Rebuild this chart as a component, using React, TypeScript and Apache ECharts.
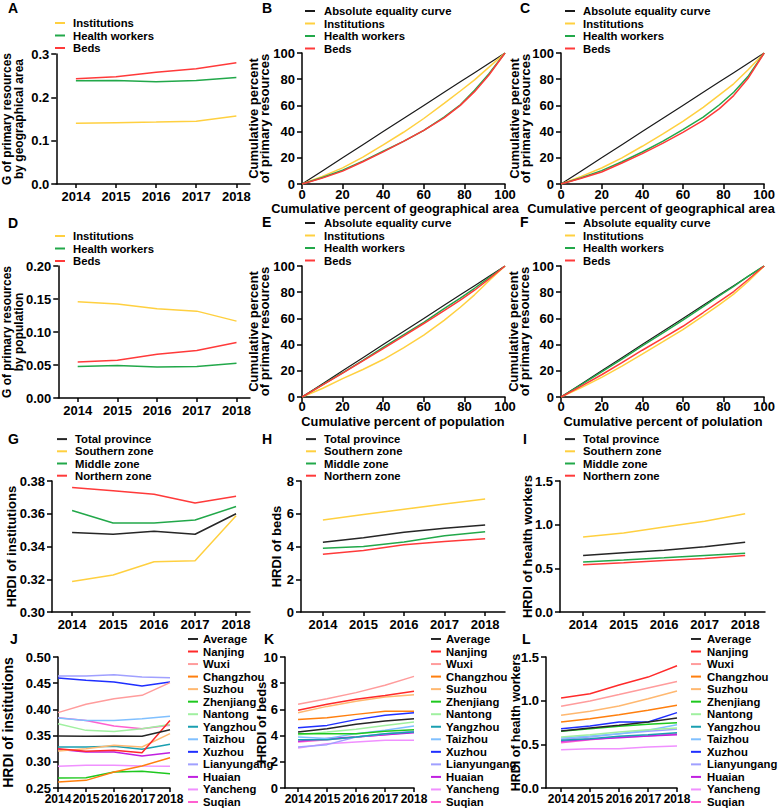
import React, { useEffect, useRef } from "react";
import * as echarts from "echarts";

// ---------- DATA ----------
const years = [2014, 2015, 2016, 2017, 2018];
const resourceNames = ["Institutions", "Health workers", "Beds"];
const equalityName = "Absolute equality curve";
const zoneNames = ["Total province", "Southern zone", "Middle zone", "Northern zone"];
const cityNames = [
  "Average", "Nanjing", "Wuxi", "Changzhou", "Suzhou", "Zhenjiang", "Nantong",
  "Yangzhou", "Taizhou", "Xuzhou", "Lianyungang", "Huaian", "Yancheng", "Suqian",
];

// A: Gini by geographical area
const giniAreaInstitutions = [0.140, 0.1415, 0.143, 0.1447, 0.157];
const giniAreaHealthWorkers = [0.238, 0.239, 0.236, 0.239, 0.246];
const giniAreaBeds = [0.243, 0.2476, 0.258, 0.266, 0.280];

// D: Gini by population
const giniPopInstitutions = [0.146, 0.1423, 0.1352, 0.1316, 0.1165];
const giniPopHealthWorkers = [0.0476, 0.0491, 0.0471, 0.0476, 0.0527];
const giniPopBeds = [0.0547, 0.0572, 0.0663, 0.0719, 0.084];

// Lorenz curves (cumulative percent)
const lorenzPct = [0, 10, 20, 30, 40, 50, 60, 70, 78, 85, 92, 100];
const equality = [0, 10, 20, 30, 40, 50, 60, 70, 78, 85, 92, 100];
// B
const lorenzB_Institutions = [0, 5.8, 12.3, 20.5, 29.8, 39.5, 50, 61.5, 71, 79.5, 89, 100];
const lorenzB_HealthWorkers = [0, 5, 10.5, 17.5, 25, 32.5, 41, 51, 60.5, 71.5, 84, 100];
const lorenzB_Beds = [0, 4.5, 9.8, 17, 24.5, 32.5, 41, 50.5, 60, 70.5, 83, 100];
// C
const lorenzC_Institutions = [0, 5.8, 12.2, 20, 28.8, 38, 47.8, 58.5, 68, 76.5, 87, 100];
const lorenzC_HealthWorkers = [0, 4.8, 10.2, 17, 24.4, 32.5, 41.5, 51, 60.5, 70, 82, 100];
const lorenzC_Beds = [0, 4.4, 9.2, 16, 23.2, 31, 39.4, 48.5, 57.5, 67.5, 80.5, 100];
// E
const lorenzE_Institutions = [0, 6.5, 14, 21, 28.6, 37.5, 47.2, 58.5, 68.5, 78, 88.5, 100];
const lorenzE_HealthWorkers = [0, 9.2, 18.5, 28, 37.8, 47.5, 57, 67.5, 75.5, 83, 91, 100];
const lorenzE_Beds = [0, 9, 18.2, 27.5, 37, 46.5, 56.1, 66, 74, 81.5, 90, 100];
// F
const lorenzF_Institutions = [0, 7.2, 15, 23.5, 32.7, 42, 51.5, 62, 70.5, 78.5, 88, 100];
const lorenzF_HealthWorkers = [0, 9.5, 19.2, 29, 39, 48.8, 58.7, 69, 77.3, 84.5, 92, 100];
const lorenzF_Beds = [0, 8.3, 17, 26.2, 35.7, 44.8, 54, 64.5, 73, 80.5, 89.5, 100];

// G, H, I: HRDI by zone (Total, Southern, Middle, Northern)
const hrdiZoneInstitutions = [
  [0.3485, 0.3475, 0.3493, 0.3475, 0.360],
  [0.3186, 0.3226, 0.3307, 0.3313, 0.3588],
  [0.362, 0.3543, 0.3543, 0.3562, 0.3644],
  [0.376, 0.3741, 0.3719, 0.3665, 0.3707],
];
const hrdiZoneBeds = [
  [4.26, 4.53, 4.87, 5.12, 5.32],
  [5.62, 5.95, 6.27, 6.6, 6.9],
  [3.9, 4.0, 4.28, 4.65, 4.9],
  [3.53, 3.76, 4.1, 4.3, 4.47],
];
const hrdiZoneHealthWorkers = [
  [0.648, 0.678, 0.708, 0.746, 0.8],
  [0.86, 0.905, 0.973, 1.038, 1.125],
  [0.572, 0.595, 0.621, 0.648, 0.674],
  [0.542, 0.564, 0.591, 0.614, 0.648],
];

// J, K, L: HRDI by city (order of cityNames)
const hrdiCityInstitutions = [
  [0.3492, 0.3486, 0.3492, 0.3486, 0.3613],
  [0.325, 0.32, 0.3219, 0.3174, 0.379],
  [0.3938, 0.4097, 0.4205, 0.4268, 0.451],
  [0.2614, 0.2646, 0.2805, 0.292, 0.3079],
  [0.3206, 0.325, 0.3314, 0.3282, 0.3537],
  [0.269, 0.2697, 0.2805, 0.2818, 0.2774],
  [0.3728, 0.36, 0.358, 0.3632, 0.371],
  [0.3282, 0.3282, 0.3295, 0.3238, 0.3333],
  [0.3836, 0.379, 0.379, 0.382, 0.3868],
  [0.46, 0.4555, 0.4523, 0.4447, 0.4523],
  [0.4637, 0.4637, 0.466, 0.462, 0.4605],
  [0.3238, 0.3187, 0.3187, 0.311, 0.3174],
  [0.2914, 0.2933, 0.2933, 0.292, 0.2914],
  [0.3842, 0.379, 0.3683, 0.3632, 0.3696],
];
const hrdiCityBeds = [
  [4.27, 4.53, 4.86, 5.11, 5.29],
  [5.93, 6.39, 6.77, 7.07, 7.38],
  [6.39, 6.82, 7.28, 7.84, 8.52],
  [5.22, 5.37, 5.62, 5.85, 5.85],
  [5.75, 6.23, 6.62, 6.95, 7.12],
  [4.15, 4.15, 4.15, 4.33, 4.45],
  [4.07, 4.27, 4.48, 4.78, 5.04],
  [3.69, 3.69, 3.89, 4.15, 4.27],
  [3.89, 3.78, 4.15, 4.4, 4.73],
  [4.6, 4.78, 5.22, 5.55, 5.75],
  [3.13, 3.31, 3.89, 4.15, 4.33],
  [3.56, 3.77, 3.89, 4.07, 4.22],
  [3.05, 3.38, 3.51, 3.64, 3.64],
  [3.51, 3.69, 3.89, 4.07, 4.27],
];
const hrdiCityHealthWorkers = [
  [0.653, 0.687, 0.718, 0.756, 0.802],
  [1.03, 1.08, 1.18, 1.27, 1.4],
  [0.935, 0.996, 1.07, 1.145, 1.22],
  [0.756, 0.794, 0.84, 0.889, 0.947],
  [0.832, 0.878, 0.939, 1.023, 1.111],
  [0.649, 0.679, 0.706, 0.729, 0.748],
  [0.584, 0.611, 0.641, 0.668, 0.687],
  [0.546, 0.565, 0.592, 0.611, 0.634],
  [0.573, 0.595, 0.622, 0.66, 0.725],
  [0.679, 0.71, 0.756, 0.756, 0.863],
  [0.557, 0.584, 0.622, 0.649, 0.672],
  [0.534, 0.557, 0.576, 0.595, 0.611],
  [0.439, 0.45, 0.45, 0.469, 0.481],
  [0.519, 0.553, 0.584, 0.595, 0.622],
];

// ---------- STYLE ----------
const FONT = "'Liberation Sans', Arial, Helvetica, sans-serif";
const YELLOW = "#ffd040";
const GREEN = "#22a84a";
const RED = "#ff3a3a";
const BLACK = "#1a1a1a";
const resourceColors = [YELLOW, GREEN, RED];
const zoneColors = ["#262626", YELLOW, GREEN, RED];
const cityColors = [
  "#262626", "#ff2a2a", "#ff9c9c", "#ff7f0e", "#ffb870", "#1ec81e", "#a0f0a0",
  "#1a9fb0", "#80c0ff", "#1f2fff", "#a0a0ff", "#c020e0", "#f090ff", "#ff60d0",
];

const grids = [
  { left: 52, top: 54, width: 198, height: 130 }, // A
  { left: 302, top: 53, width: 203, height: 131 }, // B
  { left: 561, top: 53, width: 204, height: 131 }, // C
  { left: 52, top: 266, width: 198, height: 132 }, // D
  { left: 302, top: 266, width: 203, height: 131 }, // E
  { left: 561, top: 266, width: 204, height: 131 }, // F
  { left: 52, top: 481, width: 198, height: 131 }, // G
  { left: 301, top: 481, width: 204, height: 131 }, // H
  { left: 560, top: 481, width: 205, height: 131 }, // I
  { left: 51, top: 657, width: 119, height: 131 }, // J
  { left: 285, top: 657, width: 129, height: 131 }, // K
  { left: 546, top: 657, width: 131, height: 131 }, // L
];

const axisLine = { show: true, lineStyle: { color: "#000", width: 1.5 } };
const tickLabel = { color: "#000", fontFamily: FONT, fontWeight: "bold" as const, fontSize: 13 };

function yearAxis(gi: number, min: number, max: number, margin = 6, fontSize = 13) {
  return {
    type: "value", gridIndex: gi, min, max,
    splitLine: { show: false },
    axisLine,
    axisTick: { show: true, length: 4, lineStyle: { color: "#000", width: 1.5 }, customValues: years },
    axisLabel: { ...tickLabel, fontSize, margin, customValues: years, formatter: (v: number) => String(Math.round(v)) },
  };
}
function pctAxis(gi: number, margin = 7) {
  return {
    type: "value", gridIndex: gi, min: 0, max: 100, interval: 20,
    splitLine: { show: false },
    axisLine,
    axisTick: { show: true, length: 5, lineStyle: { color: "#000", width: 1.5 } },
    axisLabel: { ...tickLabel, margin },
  };
}
function pctYAxis(gi: number, nameGap: number) {
  return {
    ...pctAxis(gi),
    name: "Cumulative percent\nof primary resources",
    nameLocation: "middle", nameGap, nameMoveOverlap: false,
    nameTextStyle: { color: "#000", fontFamily: FONT, fontWeight: "bold", fontSize: 13, lineHeight: 11 },
  };
}
function yAxis(gi: number, min: number, max: number, interval: number, decimals: number,
  name: string, nameGap: number, fontSize: number, lineHeight: number) {
  return {
    type: "value", gridIndex: gi, min, max, interval,
    splitLine: { show: false },
    axisLine,
    axisTick: { show: true, length: 5, lineStyle: { color: "#000", width: 1.5 } },
    axisLabel: { ...tickLabel, margin: 7, formatter: (v: number) => v.toFixed(decimals) },
    name, nameLocation: "middle", nameGap, nameMoveOverlap: false,
    nameTextStyle: { color: "#000", fontFamily: FONT, fontWeight: "bold", fontSize, lineHeight },
  };
}

function line(name: string, color: string, gi: number, xs: number[], ys: number[], width = 1.5) {
  return {
    type: "line", name, xAxisIndex: gi, yAxisIndex: gi,
    data: xs.map((x, i) => [x, ys[i]]),
    showSymbol: false, symbol: "none", smooth: false,
    lineStyle: { color, width }, itemStyle: { color },
    silent: true, emphasis: { disabled: true },
  };
}

function legend(data: string[], left: number, top: number, rowH: number, textPad: number) {
  return {
    data, left, top, orient: "vertical", icon: "rect", itemWidth: 10, itemHeight: 2,
    itemGap: 0, padding: 0, selectedMode: false,
    textStyle: { color: "#000", fontFamily: FONT, fontWeight: "bold", fontSize: 11.3, lineHeight: rowH, padding: [0, 0, 0, textPad] },
  };
}

function letter(t: string, x: number, y: number) {
  return { type: "text", x, y, silent: true, style: { text: t, fill: "#000", font: `bold 14px ${FONT}`, textAlign: "left", textVerticalAlign: "middle" } };
}
function xTitle(t: string, x: number, y: number) {
  return { type: "text", x, y, silent: true, style: { text: t, fill: "#000", font: `bold 12.8px ${FONT}`, textAlign: "center", textVerticalAlign: "middle" } };
}

function buildOption() {
  const series: any[] = [];
  // A
  [giniAreaInstitutions, giniAreaHealthWorkers, giniAreaBeds].forEach((d, i) =>
    series.push(line(resourceNames[i], resourceColors[i], 0, years, d)));
  // D
  [giniPopInstitutions, giniPopHealthWorkers, giniPopBeds].forEach((d, i) =>
    series.push(line(resourceNames[i], resourceColors[i], 3, years, d)));
  // Lorenz B, C, E, F
  const lor: [number, number[][]][] = [
    [1, [lorenzB_Institutions, lorenzB_HealthWorkers, lorenzB_Beds]],
    [2, [lorenzC_Institutions, lorenzC_HealthWorkers, lorenzC_Beds]],
    [4, [lorenzE_Institutions, lorenzE_HealthWorkers, lorenzE_Beds]],
    [5, [lorenzF_Institutions, lorenzF_HealthWorkers, lorenzF_Beds]],
  ];
  lor.forEach(([gi, sets]) => {
    series.push(line(equalityName, BLACK, gi, lorenzPct, equality, 1.2));
    sets.forEach((d, i) => series.push(line(resourceNames[i], resourceColors[i], gi, lorenzPct, d, 1.5)));
  });
  // G, H, I
  [[6, hrdiZoneInstitutions], [7, hrdiZoneBeds], [8, hrdiZoneHealthWorkers]].forEach(([gi, sets]: any) => {
    sets.forEach((d: number[], i: number) => series.push(line(zoneNames[i], zoneColors[i], gi, years, d)));
  });
  // J, K, L (draw Average last so it sits on top)
  [[9, hrdiCityInstitutions], [10, hrdiCityBeds], [11, hrdiCityHealthWorkers]].forEach(([gi, sets]: any) => {
    for (let i = sets.length - 1; i >= 0; i--) series.push(line(cityNames[i], cityColors[i], gi, years, sets[i]));
  });

  const lorLegend = [equalityName, ...resourceNames];

  return {
    animation: false,
    backgroundColor: "#fff",
    grid: grids,
    xAxis: [
      yearAxis(0, 2013.51, 2018.34),
      pctAxis(1, 4), pctAxis(2, 4),
      yearAxis(3, 2013.51, 2018.34),
      pctAxis(4, 3), pctAxis(5, 3),
      yearAxis(6, 2013.51, 2018.34),
      yearAxis(7, 2013.46, 2018.49),
      yearAxis(8, 2013.43, 2018.49),
      yearAxis(9, 2014, 2018, 5, 12),
      yearAxis(10, 2013.55, 2018, 5, 12),
      yearAxis(11, 2013.48, 2018, 5, 12),
    ],
    yAxis: [
      yAxis(0, 0, 0.3, 0.1, 1, "G of primary resources\nby geographical area", 32, 12, 11.5),
      pctYAxis(1, 32),
      pctYAxis(2, 30),
      yAxis(3, 0, 0.2, 0.05, 2, "G of primary resources\nby population", 34, 12, 11.5),
      pctYAxis(4, 32),
      pctYAxis(5, 31.5),
      yAxis(6, 0.3, 0.38, 0.02, 2, "HRDI of institutions", 34, 13, 13),
      yAxis(7, 0, 8, 2, 0, "HRDI of beds", 18.5, 13, 13),
      yAxis(8, 0, 1.5, 0.5, 1, "HRDI of health workers", 26.5, 13, 13),
      yAxis(9, 0.25, 0.5, 0.05, 2, "HRDI of institutions", 43, 14, 14),
      yAxis(10, 0, 10, 2, 0, "HRDI of beds", 17.5, 13, 13),
      yAxis(11, 0, 1.5, 0.5, 1, "HRDI of health workers", 23.5, 12.5, 12.5),
    ],
    legend: [
      legend(resourceNames, 55, 16.75, 12.5, 3),
      legend(lorLegend, 305, 4.75, 12.5, 4),
      legend(lorLegend, 565, 4.75, 12.5, 3),
      legend(resourceNames, 55, 229.75, 12.5, 3),
      legend(lorLegend, 305, 216.75, 12.5, 4),
      legend(lorLegend, 565, 216.75, 12.5, 3),
      legend(zoneNames, 57, 433, 12.2, 3),
      legend(zoneNames, 306, 433, 12.2, 3),
      legend(zoneNames, 565, 433, 12.2, 3),
      legend(cityNames, 188, 632.7, 12.54, 0),
      legend(cityNames, 431, 632.7, 12.54, 0),
      legend(cityNames, 691, 632.7, 12.54, 1),
    ],
    graphic: [
      letter("A", 8, 8), letter("B", 262, 8), letter("C", 520, 8),
      letter("D", 8, 223), letter("E", 262, 222), letter("F", 520, 222),
      letter("G", 8, 439), letter("H", 262, 439), letter("I", 523, 439),
      letter("J", 10, 639), letter("K", 264, 639), letter("L", 522, 639),
      xTitle("Cumulative percent of geographical area", 395, 208),
      xTitle("Cumulative percent of geographical area", 651, 208),
      xTitle("Cumulative percent of population", 403, 421),
      xTitle("Cumulative percent of polulation", 663, 421),
    ],
    series,
  };
}

export default function App() {
  const ref = useRef<HTMLDivElement>(null);
  useEffect(() => {
    if (!ref.current) return;
    const chart = echarts.init(ref.current, undefined, { renderer: "svg" });
    chart.setOption(buildOption() as any);
    return () => chart.dispose();
  }, []);
  return (
    <div
      ref={ref}
      style={{ position: "fixed", left: 0, top: 0, width: 778, height: 810, background: "#fff" }}
    />
  );
}
